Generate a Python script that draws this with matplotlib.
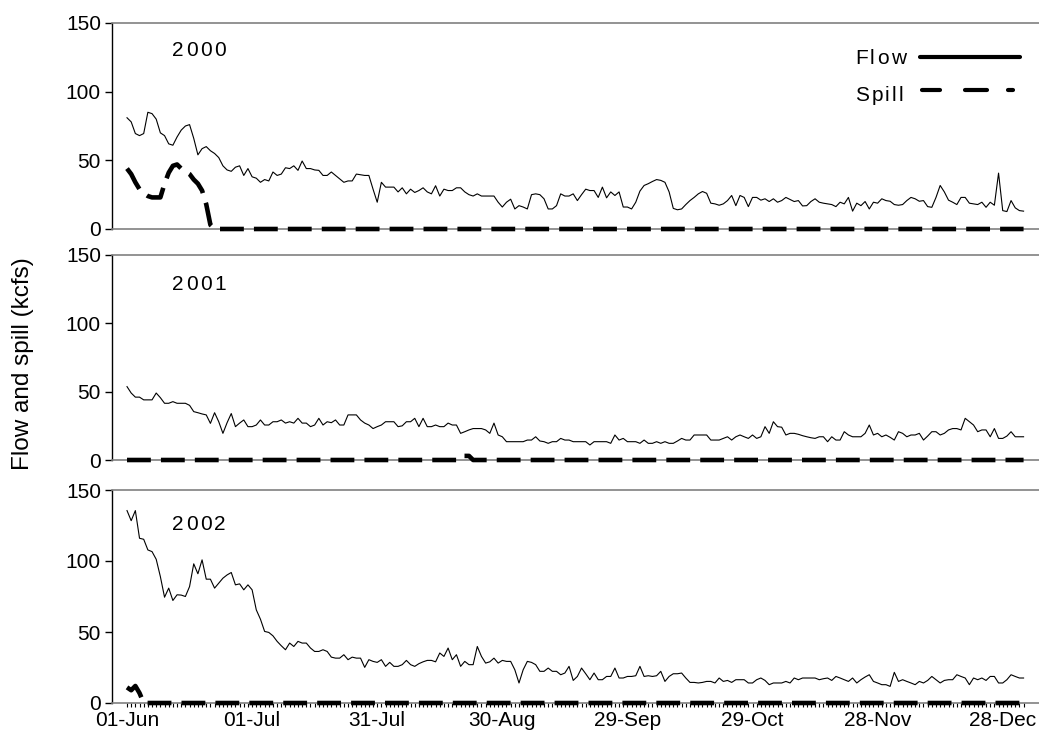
import numpy as np
import matplotlib
matplotlib.use("Agg")
import matplotlib.pyplot as plt
import matplotlib.transforms as mtransforms
from matplotlib.ticker import FixedLocator

plt.rcParams['font.family'] = ['Liberation Sans', 'DejaVu Sans']

# ---------------- data (kcfs), daily from 01-Jun ----------------
years = ["2000", "2001", "2002"]
tick_days = [0, 30, 60, 90, 120, 150, 180, 210]
tick_labels = ["01-Jun", "01-Jul", "31-Jul", "30-Aug", "29-Sep", "29-Oct", "28-Nov", "28-Dec"]

flow_2000 = [
    81, 78, 69.5, 68, 69.5, 85, 84, 80, 70, 68, 62, 61, 67, 72, 75, 76, 66, 54, 58.5, 60,
    57, 55, 52, 46, 43, 42, 45, 46, 39, 44, 38, 37, 34, 36, 35, 41.5, 39, 40, 44.6, 44,
    46, 42.7, 49.5, 44, 44, 43, 42.7, 39, 39, 41.5, 39, 36.6, 34, 35, 35, 40, 39.5, 39, 39, 29,
    19.5, 34, 30.5, 30.5, 30.5, 27,
    30, 25.6, 29, 26.6, 28, 30, 27, 25.6, 31.5, 24,
    29, 28, 28, 30, 30, 27, 25, 24, 25.6, 24,
    24, 24, 24, 19.5, 16, 19.5, 21.7, 14.6, 17, 16,
    14.6, 25, 25.6, 25, 22, 14.6, 14.6, 17, 25.6, 24,
    24, 25.6, 20.7, 25, 29, 28, 28, 23, 30.5, 22.7,
    27, 24.4, 27, 16, 16, 14.6, 19.5, 27.6, 31.7, 33,
    34.6, 36, 35.4, 34, 27, 15, 14, 14.6, 17.8, 20.7,
    23,
    25.6, 27.3, 26, 18.8, 18.3, 17.3, 18.3, 20.7, 24.4, 17,
    24.4, 23, 16.3, 23, 23, 21, 22, 20, 22, 19.5,
    20.7, 23, 21.5, 20, 20.7, 16.8, 17, 20, 22, 19.5,
    18.8, 18.3, 17.8, 16.3, 19.5, 18.3, 23, 13, 18.8, 17,
    20, 14.6, 19.5, 18.8, 22, 20.7, 20.2, 17.8, 17.3, 17.8,
    20.7, 23, 22, 20.2, 20.7, 16.3, 15.8, 23, 31.7, 27,
    21, 19.5, 17.8, 23, 23, 18.8, 18.3, 17.8, 19.5, 15.8,
    19.5, 17.3, 40.7, 13.4, 12.7, 20.7, 15.4, 13.4, 13,
]
spill_2000 = [44, 40, 34, 29, 26, 24, 23, 23, 23, 33, 41, 46, 47, 44, 42, 40, 36, 33, 28, 18, 3] \
    + [0] * 195

flow_2001 = [
    53.7, 49, 46, 46, 44, 44, 44, 49, 45.6, 41.5,
    41.5, 42.7, 41.5, 41.5, 41.5, 40, 35.4, 34.6, 33.7, 33,
    26.8, 34.6, 28, 19.5, 27.3, 34, 24.4, 27, 29.3, 24.4,
    24.4, 25.6, 29.3, 25.6, 25.6, 28, 28, 29.3, 27, 28,
    27, 30.5, 27, 27, 24.4, 25.6, 30.5, 25.6, 28, 27.3,
    29.3, 25.6, 25.6, 33, 33, 33, 29.3, 27, 25.6, 23,
    24.4, 25.6, 28, 28, 28, 24.4,
    25, 28, 28, 30.5, 24.4, 30.5, 24.4, 24.4, 25.6, 24.4,
    24.4, 27, 25.6, 25.6, 19.5, 20.7, 22, 23, 23, 23,
    22, 19.5, 27, 18.3, 17, 13.4, 13.4, 13.4, 13.4, 13.4,
    14.6, 14.6, 17, 13.9, 13.4, 12.2, 13.4, 13.4, 15.8, 14.6,
    14.6, 13.4, 13.4, 13.4, 13.4, 11, 13.4, 13.4, 13.4, 13.4,
    12.2, 18.3, 14.6, 15.8, 13.4, 13.4, 13.4, 12.2, 14.6, 12.2,
    12.2, 13.4, 12.2, 13.4, 12.2, 12.2, 13.9, 15.8, 14.6, 14.6,
    18.3,
    18.3, 18.3, 18.3, 14.6, 14.6, 14.6, 15.8, 17, 14.6, 17,
    18.3, 17, 15.8, 18.3, 15.8, 17, 24.4, 19.5, 28, 24.4,
    24, 18.3, 19.5, 19.5, 18.8, 17.8, 17, 16.3, 15.8, 17,
    17, 13.4, 17, 14.6, 14.6, 20.7, 18.3, 17, 17, 17,
    19.5, 25.6, 18.3, 19.5, 17, 18.3, 16.6, 14.6, 20.7, 19.5,
    17, 18.3, 18.3, 19.5, 14.6, 17.5, 20.7, 20.7, 18.3, 19.5,
    22, 23, 23, 22, 30.5, 28, 25.6, 20.7, 22, 22,
    17, 23, 15.8, 15.8, 17.5, 20.7, 17, 17, 17,
]
spill_2001 = [0] * 80 + [3, 3, 3] + [0] * 133

flow_2002 = [
    135.5, 128.4, 135.5, 116, 115.3, 107.8, 106.6, 101.2, 89, 74.5,
    80.9, 72.2, 76.2, 76, 75, 82, 98, 91, 100.8, 87.2,
    87.2, 80.9, 84.4, 87.9, 90.2, 91.9, 83.2, 83.9, 79.7, 83.2,
    79.7, 65.6, 59, 50.4, 49.7, 47.3, 43.4, 40.3, 37.5, 42.2,
    39.8, 43.4, 42.2, 42.2, 38.7, 36.3, 36.3, 37.5, 36.3, 32.3,
    31.6, 31.6, 34, 30.5, 32.3, 31.6, 31.6, 25.1, 30.5, 29.3,
    28.6, 30.5, 25.8, 28.6, 25.8, 25.8,
    27, 30, 27, 25.8, 27.7, 29, 30, 30, 29, 35.2,
    32.8, 38.7, 30.5, 34, 25.8, 29.3, 27, 27, 39.8, 32.8,
    28.1, 29, 31.6, 28.1, 30, 29.3, 29.3, 23.4, 14.1, 23.4,
    29.3, 28.6, 27, 22.3, 22.3, 24.6, 22.3, 22.3, 19.9, 21.1,
    25.8, 15.9, 18.7, 24.6, 20.6, 16.4, 21.1, 16.4, 16.4, 18.7,
    18.7, 24.6, 17.6, 17.6, 18.7, 18.7, 19.2, 25.8, 18.7, 19.2,
    18.7, 19.2, 22.3, 15.2, 18.7, 20.6, 20.6, 21.1, 17.6, 14.5,
    14.5,
    14.1, 14.5, 15.2, 15.2, 14.1, 17.6, 15.2, 15.9, 14.5, 16.4,
    16.4, 16.4, 14.1, 14.1, 16.4, 17.6, 15.9, 12.9, 14.1, 14.1,
    14.1, 15.2, 14.1, 17.6, 16.4, 17.6, 17.6, 17.6, 17.6, 16.4,
    17.1, 17.6, 15.9, 18.7, 17.6, 16.4, 15.2, 17.6, 14.1, 16.4,
    18.3, 19.9, 15.2, 14.1, 12.9, 12.9, 11.7, 21.6, 15.2, 16.4,
    15.2, 14.1, 12.9, 15.2, 14.1, 15.9, 18.7, 16.4, 14.1, 15.9,
    16.4, 16.4, 19.9, 18.7, 17.6, 12.9, 17.6, 16.4, 17.6, 15.9,
    18.7, 18.7, 14.1, 14.1, 16.4, 19.9, 18.7, 17.6, 17.6,
]
spill_2002 = [11, 9, 12, 7] + [0] * 212

flows = [flow_2000, flow_2001, flow_2002]
spills = [spill_2000, spill_2001, spill_2002]

# ---------------- figure ----------------
W, H = 1039, 733
fig = plt.figure(figsize=(W / 100, H / 100), dpi=100)

def rect(top_px, bottom_px, left_px=112, right_px=1039):
    return [left_px / W, 1 - bottom_px / H, (right_px - left_px) / W, (bottom_px - top_px) / H]

rects = [rect(23, 229), rect(255, 460), rect(490, 703)]
year_y = [0.866, 0.856, 0.84]

renderer = fig.canvas.get_renderer()

def spaced(ax, x, y, s, size, gap_px):
    dx = 0.0
    for ch in s:
        tr = mtransforms.offset_copy(ax.transAxes, fig=fig, x=dx, y=0, units='dots')
        t = ax.text(x, y, ch, transform=tr, fontsize=size, ha='left', va='center', color='black')
        w = t.get_window_extent(renderer).width
        dx += w + gap_px

axes = []
for i, (r, flow, spill, yr) in enumerate(zip(rects, flows, spills, years)):
    ax = fig.add_axes(r)
    axes.append(ax)
    days_f = np.arange(len(flow))
    days_s = np.arange(len(spill))
    ax.plot(days_f, flow, color='black', lw=0.8, zorder=3)
    ax.plot(days_s, spill, color='black', lw=3.3, dashes=(5.2, 2.2),
            dash_capstyle='butt', clip_on=False, zorder=4)
    ax.set_xlim(-3.6, 218.7)
    ax.set_ylim(0, 150)
    ax.set_yticks([0, 50, 100, 150])
    ax.tick_params(axis='y', direction='out', length=5, width=1, labelsize=15, pad=3, colors='black')
    ax.spines['right'].set_visible(False)
    ax.spines['top'].set_color('#808080')
    ax.spines['top'].set_linewidth(1.2)
    ax.spines['bottom'].set_color('#808080')
    ax.spines['bottom'].set_linewidth(1.2)
    ax.spines['left'].set_color('black')
    ax.spines['left'].set_linewidth(1.0)
    ax.set_facecolor('white')
    if i < 2:
        ax.set_xticks([])
    else:
        ax.xaxis.set_major_locator(FixedLocator(tick_days))
        ax.set_xticklabels(tick_labels)
        ax.xaxis.set_minor_locator(FixedLocator(np.arange(0, 216)))
        ax.tick_params(axis='x', which='both', direction='out', length=3, width=0.8,
                       labelsize=15, pad=3, colors='black')
    spaced(ax, 0.0647, year_y[i], yr, 15, 2.5)

# legend (top panel)
ax0 = axes[0]
spaced(ax0, 0.8015, 0.828, "Flow", 15, 2.3)
spaced(ax0, 0.8015, 0.650, "Spill", 15, 2.3)
ax0.plot([0.8716, 0.9795], [0.835, 0.835], transform=ax0.transAxes, color='black',
         lw=3.0, solid_capstyle='round', clip_on=False)
for a, b in [(0.8738, 0.8932), (0.9202, 0.9439), (0.9666, 0.9720)]:
    ax0.plot([a, b], [0.675, 0.675], transform=ax0.transAxes, color='black',
             lw=3.0, solid_capstyle='round', clip_on=False)

fig.text(23 / W, 1 - 364 / H, "Flow and spill (kcfs)", rotation=90, ha='center', va='center',
         fontsize=17.5)

fig.savefig("out.png", dpi=100, facecolor='white')
